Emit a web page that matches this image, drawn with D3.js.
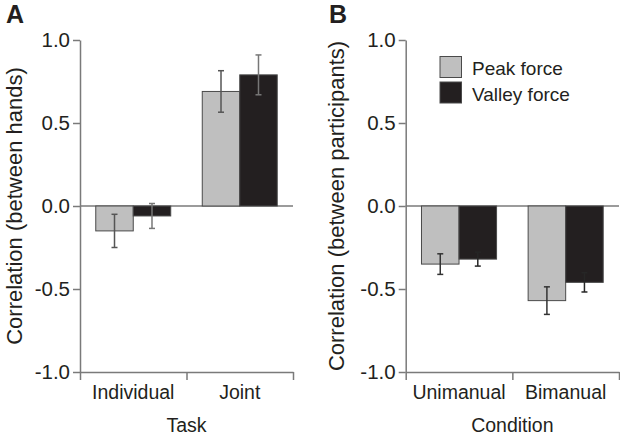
<!DOCTYPE html>
<html>
<head>
<meta charset="utf-8">
<script src="https://cdn.jsdelivr.net/npm/d3@7"></script>
<style>
  html, body { margin: 0; padding: 0; background: #fff; }
  svg { display: block; font-family: "Liberation Sans", Arial, sans-serif; }
</style>
</head>
<body>
<svg id="chart" width="620" height="440"></svg>
<script>
// ---- data ----
const tasks = ["Individual", "Joint"];
const peakA = [-0.15, 0.69];
const peakAErr = [0.10, 0.125];
const valleyA = [-0.06, 0.79];
const valleyAErr = [0.075, 0.12];

const conditions = ["Unimanual", "Bimanual"];
const peakB = [-0.35, -0.57];
const peakBErr = [0.062, 0.083];
const valleyB = [-0.32, -0.46];
const valleyBErr = [0.042, 0.058];

const seriesNames = ["Peak force", "Valley force"];
const yTicks = [-1.0, -0.5, 0.0, 0.5, 1.0];

// ---- styles ----
const colors = ["#bfbfbf", "#231f20"];
const axisColor = "#7a7a7a";
const textColor = "#231f20";

const svg = d3.select("#chart");

function panel(opts) {
  const { x0, x1, cats, peak, peakErr, valley, valleyErr, letter, letterX,
          yTitle, yTitleX, xTitle, errColors } = opts;
  const yTop = 40, yBot = 372;
  const y = d3.scaleLinear().domain([-1, 1]).range([yBot, yTop]);
  const xb = d3.scaleBand().domain(cats).range([x0, x1]).paddingInner(0.296).paddingOuter(0.148);
  const xs = d3.scaleBand().domain(seriesNames).range([0, xb.bandwidth()]);
  const xe = d3.scaleLinear().domain([0, cats.length]).range([x0, x1]);

  const g = svg.append("g");

  // zero line
  g.append("line")
    .attr("x1", x0).attr("x2", x1)
    .attr("y1", y(0)).attr("y2", y(0))
    .attr("stroke", axisColor).attr("stroke-width", 1.5);

  // bars
  const data = [];
  cats.forEach((c, i) => {
    data.push({ c, s: seriesNames[0], v: peak[i], e: peakErr[i], k: 0 });
    data.push({ c, s: seriesNames[1], v: valley[i], e: valleyErr[i], k: 1 });
  });

  g.selectAll("rect.bar").data(data).enter().append("rect")
    .attr("class", "bar")
    .attr("x", d => xb(d.c) + xs(d.s))
    .attr("width", xs.bandwidth())
    .attr("y", d => Math.min(y(d.v), y(0)))
    .attr("height", d => Math.abs(y(d.v) - y(0)))
    .attr("fill", d => colors[d.k])
    .attr("stroke", "#4a4a4a").attr("stroke-width", 1);

  // error bars
  const eb = g.selectAll("g.err").data(data).enter().append("g")
    .attr("stroke", d => errColors[d.k]).attr("stroke-width", 1.5);
  const cx = d => xb(d.c) + xs(d.s) + xs.bandwidth() / 2;
  eb.append("line")
    .attr("x1", cx).attr("x2", cx)
    .attr("y1", d => y(d.v + d.e)).attr("y2", d => y(d.v - d.e));
  eb.append("line")
    .attr("x1", d => cx(d) - 3).attr("x2", d => cx(d) + 3)
    .attr("y1", d => y(d.v + d.e)).attr("y2", d => y(d.v + d.e));
  eb.append("line")
    .attr("x1", d => cx(d) - 3).attr("x2", d => cx(d) + 3)
    .attr("y1", d => y(d.v - d.e)).attr("y2", d => y(d.v - d.e));

  // y axis
  const ya = g.append("g")
    .attr("transform", `translate(${x0},0)`)
    .call(d3.axisLeft(y).tickValues(yTicks).tickSize(7).tickSizeOuter(0).tickPadding(3)
      .tickFormat(d => d.toFixed(1)));
  ya.select(".domain").attr("stroke", axisColor).attr("stroke-width", 1.5);
  ya.selectAll(".tick line").attr("stroke", axisColor).attr("stroke-width", 1.5);
  ya.selectAll(".tick text").attr("fill", textColor)
    .style("font-size", "20.5px").style("font-family", "Liberation Sans, Arial, sans-serif");

  // x axis (ticks at band edges)
  const xa = g.append("g")
    .attr("transform", `translate(0,${yBot})`)
    .call(d3.axisBottom(xe).tickValues(d3.range(cats.length + 1)).tickSize(8).tickSizeOuter(0)
      .tickFormat(""));
  xa.select(".domain").attr("stroke", axisColor).attr("stroke-width", 1.5);
  xa.selectAll(".tick line").attr("stroke", axisColor).attr("stroke-width", 1.5);

  // category labels
  const xl = g.append("g")
    .attr("transform", `translate(0,${yBot})`)
    .call(d3.axisBottom(xb).tickSize(0).tickPadding(13));
  xl.select(".domain").remove();
  xl.selectAll(".tick text").attr("fill", textColor)
    .style("font-size", "19.5px").style("font-family", "Liberation Sans, Arial, sans-serif");

  // x title
  g.append("text")
    .attr("x", (x0 + x1) / 2).attr("y", 432)
    .attr("text-anchor", "middle")
    .attr("fill", textColor).style("font-size", "19.5px")
    .text(xTitle);

  // y title
  g.append("text")
    .attr("transform", `translate(${yTitleX},${(yTop + yBot) / 2}) rotate(-90)`)
    .attr("text-anchor", "middle")
    .attr("fill", textColor).style("font-size", "22px")
    .text(yTitle);

  // panel letter
  g.append("text")
    .attr("x", letterX).attr("y", 23)
    .attr("fill", textColor).style("font-size", "25px").style("font-weight", "bold")
    .text(letter);

  return { g, y };
}

panel({
  x0: 80, x1: 293, cats: tasks,
  peak: peakA, peakErr: peakAErr, valley: valleyA, valleyErr: valleyAErr,
  letter: "A", letterX: 6, yTitle: "Correlation (between hands)", yTitleX: 22,
  xTitle: "Task", errColors: ["#555", "#777"]
});

panel({
  x0: 405.7, x1: 619, cats: conditions,
  peak: peakB, peakErr: peakBErr, valley: valleyB, valleyErr: valleyBErr,
  letter: "B", letterX: 329, yTitle: "Correlation (between participants)", yTitleX: 344,
  xTitle: "Condition", errColors: ["#333", "#262626"]
});

// legend
const leg = svg.append("g");
seriesNames.forEach((s, i) => {
  leg.append("rect")
    .attr("x", 440).attr("y", 56.5 + i * 25.5)
    .attr("width", 21.5).attr("height", 21)
    .attr("fill", colors[i]).attr("stroke", "#4a4a4a").attr("stroke-width", 1);
  leg.append("text")
    .attr("x", 472).attr("y", 75 + i * 25.5)
    .attr("fill", textColor).style("font-size", "19px")
    .text(s);
});
</script>
</body>
</html>
